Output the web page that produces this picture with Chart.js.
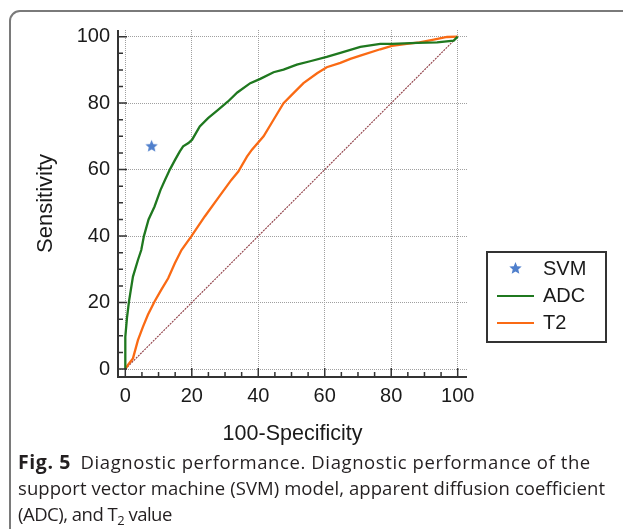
<!DOCTYPE html>
<html>
<head>
<meta charset="utf-8">
<script src="https://cdn.jsdelivr.net/npm/chart.js@4.4.1/dist/chart.umd.min.js"></script>
<style>
  html, body { margin: 0; padding: 0; background: #fff; }
  body { width: 623px; height: 529px; position: relative; overflow: hidden; }
  #frame {
    position: absolute; left: 9px; top: 10px; width: 700px; height: 600px;
    border: 2px solid #7a7a7a; border-radius: 11px; box-sizing: border-box;
  }
  #chartBox { position: absolute; left: 0; top: 0; width: 623px; height: 450px; }
  #legend {
    position: absolute; left: 486px; top: 251px; width: 121px; height: 92px;
    border: 2px solid #333; box-sizing: border-box; background: #fff;
    padding-top: 2px;
    font: 20px "Liberation Sans", Arial, sans-serif; color: #1a1a1a;
  }
  .row { height: 27px; display: flex; align-items: center; }
  .mark { width: 37px; margin-left: 9px; margin-right: 9px; display: flex; justify-content: center; align-items: center; }
  .mark span { display: block; width: 37px; height: 2px; }
  #caption {
    position: absolute; left: 18px; top: 449px;
    font: 18.5px/26px "Open Sans", sans-serif; color: #231f20; white-space: nowrap;
  }
  #caption .ln { display: block; }
  #caption .l1 { letter-spacing: 0.6px; }
  #caption .l2 { letter-spacing: 0.08px; }
  #caption .l3 { letter-spacing: -0.5px; }
  #caption b { font-weight: 700; font-size: 19.5px; letter-spacing: 0.6px; margin-right: 4px; }
  #caption sub { font-size: 70%; vertical-align: -0.3em; line-height: 0; }
</style>
</head>
<body>
<div id="frame"></div>
<div id="chartBox"><canvas id="roc" width="623" height="450"></canvas></div>
<div id="legend"></div>
<div id="caption"><span class="ln l1"><b>Fig. 5</b> Diagnostic performance. Diagnostic performance of the</span><span class="ln l2">support vector machine (SVM) model, apparent diffusion coefficient</span><span class="ln l3">(ADC), and T<sub>2</sub> value</span></div>
<script>
// ROC data (x = 100-specificity, y = sensitivity)
const adcFpr  = [0, 0, 0.5, 1.1, 2.3, 3.8, 4.8, 5.6, 7, 8.8, 10.6, 12, 13.4, 15, 16.4, 17.4, 19, 20.1, 22.4, 24.9, 27.9, 30.9, 33.7, 37.6, 40.6, 44.6, 47.6, 51.6, 55.6, 60.6, 64.7, 70.7, 76.7, 80.2, 87.8, 93.8, 98.8, 100];
const adcSens = [0, 9.7, 15.4, 20.3, 27.8, 32.8, 35.8, 40, 45, 48.9, 53.9, 57, 60, 63, 65.5, 67, 68, 69, 73, 75.5, 78, 80.5, 83.2, 86, 87.3, 89.3, 90.1, 91.6, 92.6, 93.9, 95.1, 96.9, 97.8, 97.8, 98.1, 98.3, 98.8, 100];

const t2Fpr  = [0, 0.8, 2.3, 3.8, 5.3, 6.8, 8.8, 10.8, 12.9, 14.9, 16.9, 19.9, 23.9, 27.9, 31.9, 34, 36.6, 38.1, 41.6, 44.6, 47.6, 50.6, 53.6, 57.7, 60.6, 64.7, 67.7, 70.7, 76.7, 80.2, 84.7, 88.5, 92.8, 96.8, 100];
const t2Sens = [0, 1.2, 3.2, 8.7, 12.7, 16.3, 20.3, 23.8, 27.3, 31.8, 35.8, 40, 45.9, 51.4, 56.9, 59.4, 63.9, 66, 70, 75, 80, 83, 86, 89, 90.8, 92.1, 93.3, 94.3, 96.2, 97.2, 97.8, 98.3, 99.1, 99.9, 100];

const svmFpr = [7.9];
const svmSens = [67];

const diagX = [0, 100];
const diagY = [0, 100];

const tickVals = [0, 20, 40, 60, 80, 100];
const minorStep = 5;

const labels = ["SVM", "ADC", "T2"];
const GREEN = "#1f781f", ORANGE = "#fa6a14", BLUE = "#4f7fcc";

const toPts = (xs, ys) => xs.map((v, i) => ({ x: v, y: ys[i] }));

function makeStar(color, r) {
  const c = document.createElement("canvas");
  const s = Math.ceil(r * 2) + 2;
  c.width = c.height = s;
  const g = c.getContext("2d");
  g.fillStyle = color;
  g.beginPath();
  for (let i = 0; i < 10; i++) {
    const rr = i % 2 ? r * 0.45 : r;
    const ang = -Math.PI / 2 + i * Math.PI / 5;
    g.lineTo(s / 2 + rr * Math.cos(ang), s / 2 + rr * Math.sin(ang));
  }
  g.closePath();
  g.fill();
  return c;
}

Chart.defaults.font.family = "'Liberation Sans', Arial, sans-serif";
Chart.defaults.color = "#1a1a1a";

// axis lines with inward major/minor ticks
const axisPlugin = {
  id: "axes",
  afterDatasetsDraw(chart) {
    const { ctx, chartArea: a, scales: { x, y } } = chart;
    ctx.save();
    ctx.strokeStyle = "#333";
    ctx.lineWidth = 2;
    ctx.beginPath();
    ctx.moveTo(a.left, a.top);
    ctx.lineTo(a.left, a.bottom);
    ctx.lineTo(a.right, a.bottom);
    ctx.stroke();
    ctx.lineWidth = 1.5;
    for (let v = tickVals[0]; v <= tickVals[tickVals.length - 1]; v += minorStep) {
      const len = tickVals.includes(v) ? 9 : 5;
      const px = x.getPixelForValue(v), py = y.getPixelForValue(v);
      ctx.beginPath();
      ctx.moveTo(px, a.bottom); ctx.lineTo(px, a.bottom - len);
      ctx.moveTo(a.left, py); ctx.lineTo(a.left + len, py);
      ctx.stroke();
    }
    ctx.restore();
  }
};

const gridOpts = { color: "#a0a0a0", lineWidth: 1, drawTicks: false };
const setTicks = (scale) => { scale.ticks = tickVals.map(v => ({ value: v })); };

const chart = new Chart(document.getElementById("roc"), {
  type: "scatter",
  data: {
    datasets: [
      { label: labels[0], data: toPts(svmFpr, svmSens), pointStyle: makeStar(BLUE, 6.5), pointRadius: 7, backgroundColor: BLUE, borderColor: BLUE, order: 0 },
      { label: labels[1], data: toPts(adcFpr, adcSens), showLine: true, borderColor: GREEN, backgroundColor: GREEN, borderWidth: 2.3, pointRadius: 0, tension: 0, order: 1 },
      { label: labels[2], data: toPts(t2Fpr, t2Sens), showLine: true, borderColor: ORANGE, backgroundColor: ORANGE, borderWidth: 2.3, pointRadius: 0, tension: 0, order: 2 },
      { label: "", data: toPts(diagX, diagY), showLine: true, borderColor: "#8e3c44", borderWidth: 1.1, borderDash: [2, 1], pointRadius: 0, order: 3 }
    ]
  },
  options: {
    responsive: false,
    animation: false,
    layout: { padding: { top: 30, right: 156, left: 0, bottom: 0 } },
    plugins: { legend: { display: false }, tooltip: { enabled: false } },
    scales: {
      x: {
        type: "linear", min: -2.2, max: 102.8,
        afterBuildTicks: setTicks,
        afterFit: (s) => { s.height = 73; },
        grid: gridOpts,
        border: { display: false, dash: [1, 1] },
        ticks: { padding: 7, font: { size: 20 } },
        title: { display: true, text: "100-Specificity", font: { size: 21.5 }, padding: { bottom: 3, top: 0 } }
      },
      y: {
        type: "linear", min: -2.4, max: 102,
        afterBuildTicks: setTicks,
        afterFit: (s) => { s.width = 118; },
        grid: gridOpts,
        border: { display: false, dash: [1, 1] },
        ticks: { padding: 8, font: { size: 20 } },
        title: { display: true, text: "Sensitivity", font: { size: 22 }, padding: { top: 33, bottom: 0 } }
      }
    }
  },
  plugins: [axisPlugin]
});

// HTML legend built from the datasets
const legend = document.getElementById("legend");
chart.data.datasets.filter(d => d.label).forEach((d) => {
  const row = document.createElement("div");
  row.className = "row";
  const mark = document.createElement("div");
  mark.className = "mark";
  if (d.showLine) {
    const s = document.createElement("span");
    s.style.background = d.borderColor;
    mark.appendChild(s);
  } else {
    mark.appendChild(makeStar(BLUE, 6.5));
  }
  const txt = document.createElement("div");
  txt.textContent = d.label;
  row.appendChild(mark);
  row.appendChild(txt);
  legend.appendChild(row);
});
</script>
</body>
</html>
